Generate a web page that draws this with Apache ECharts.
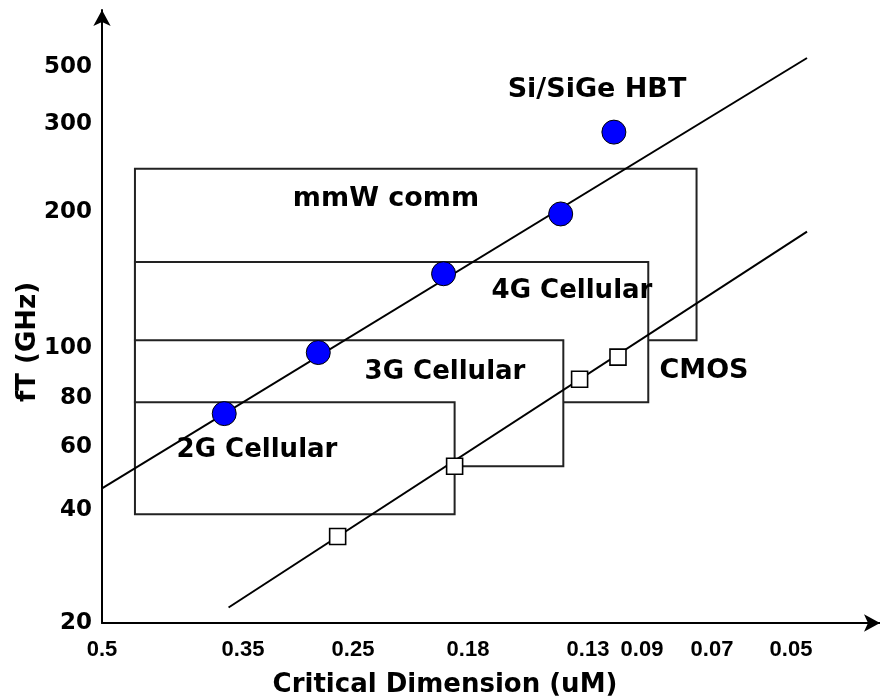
<!DOCTYPE html>
<html>
<head>
<meta charset="utf-8">
<script src="https://cdn.jsdelivr.net/npm/echarts@6/dist/echarts.min.js"></script>
<style>
  html, body { margin: 0; padding: 0; background: #fff; }
  #chart { width: 880px; height: 700px; }
</style>
</head>
<body>
<div id="chart"></div>
<script>
// Technology nodes on the horizontal axis (critical dimension, uM)
const nodeTicks = [0.5, 0.35, 0.25, 0.18, 0.13, 0.09, 0.07, 0.05];
// fT tick labels on the vertical axis (GHz)
const ftTicks = [20, 40, 60, 80, 100, 200, 300, 500];

// Si/SiGe HBT devices
const hbtNode = [0.367, 0.278, 0.193, 0.140, 0.109];
const hbtFt = [73, 98, 146, 198, 289];

// CMOS devices
const cmosNode = [0.262, 0.187, 0.133, 0.106];
const cmosFt = [34, 53, 87, 96];

// Trend lines (start, end)
const hbtTrendNode = [0.5, 0.0467];
const hbtTrendFt = [46, 542];
const cmosTrendNode = [0.363, 0.0467];
const cmosTrendFt = [22, 181];

// Application regions, back to front
const bandNames = ['mmW comm', '4G Cellular', '3G Cellular', '2G Cellular'];
const bandNodeFrom = [0.46, 0.46, 0.46, 0.46];
const bandNodeTo = [0.074, 0.088, 0.139, 0.187];
const bandFtLow = [104, 78, 53, 39];
const bandFtHigh = [244, 155, 104, 78];

// Both axes are hand-spaced: every labelled tick sits at its own stop
// (0-100 along the axis) and values in between are placed log-wise.
const nodeStops = [0, 18.12, 32.26, 47.04, 62.47, 69.41, 78.41, 88.56];
const ftStops = [0, 18.43, 28.71, 36.70, 44.86, 67.05, 81.40, 90.70];

function makeScale(ticks, stops) {
  const n = ticks.length;
  return function (v) {
    const lv = Math.log(v);
    let i = 0;
    for (; i < n - 2; i++) {
      const a = Math.log(ticks[i]), b = Math.log(ticks[i + 1]);
      if ((lv - a) / (b - a) <= 1) break;
    }
    const a = Math.log(ticks[i]), b = Math.log(ticks[i + 1]);
    const t = (lv - a) / (b - a);
    return stops[i] + t * (stops[i + 1] - stops[i]);
  };
}
const xScale = makeScale(nodeTicks, nodeStops);
const yScale = makeScale(ftTicks, ftStops);

function tickLabel(v, stops, ticks) {
  let best = 0;
  for (let i = 1; i < stops.length; i++) {
    if (Math.abs(stops[i] - v) < Math.abs(stops[best] - v)) best = i;
  }
  return String(ticks[best]);
}

const pairs = (xs, ys) => xs.map((x, i) => [xScale(x), yScale(ys[i])]);

const boldFont = (size, family) => 'bold ' + size + 'px ' + family;
const DV = '"DejaVu Sans"';

function note(text, x, y, size, extra) {
  return Object.assign({
    type: 'text', x: x, y: y, z: 100, silent: true,
    style: { text: text, font: boldFont(size, DV), fill: '#000', align: 'center', verticalAlign: 'middle' }
  }, extra || {});
}

const axisLineStyle = { color: '#000', width: 2 };
const arrowEnd = {
  show: true, onZero: false, lineStyle: axisLineStyle,
  symbol: ['none', 'arrow'], symbolSize: [13, 16], symbolOffset: [0, 0]
};

const option = {
  animation: false,
  backgroundColor: '#fff',
  grid: { left: 102, right: 0, top: 10, bottom: 77, outerBoundsMode: 'none' },
  xAxis: {
    type: 'value', min: 0, max: 100,
    axisLine: arrowEnd,
    axisTick: { show: false },
    splitLine: { show: false },
    axisLabel: {
      customValues: nodeTicks.map(xScale),
      formatter: v => tickLabel(v, nodeStops, nodeTicks),
      margin: 16, color: '#000',
      fontFamily: '"Liberation Sans"', fontWeight: 'bold', fontSize: 22
    }
  },
  yAxis: {
    type: 'value', min: 0, max: 100,
    axisLine: arrowEnd,
    axisTick: { show: false },
    splitLine: { show: false },
    axisLabel: {
      customValues: ftTicks.map(yScale),
      formatter: v => tickLabel(v, ftStops, ftTicks),
      margin: 10, color: '#000',
      fontFamily: DV, fontWeight: 'bold', fontSize: 23
    }
  },
  series: [
    {
      name: 'Application regions',
      type: 'custom',
      silent: true,
      z: 1,
      encode: { x: [0, 1], y: [2, 3] },
      data: bandNames.map((n, i) => [
        xScale(bandNodeFrom[i]), xScale(bandNodeTo[i]),
        yScale(bandFtLow[i]), yScale(bandFtHigh[i])
      ]),
      renderItem: function (params, api) {
        const p0 = api.coord([api.value(0), api.value(3)]);
        const p1 = api.coord([api.value(1), api.value(2)]);
        return {
          type: 'rect',
          shape: { x: p0[0], y: p0[1], width: p1[0] - p0[0], height: p1[1] - p0[1] },
          style: { fill: '#fff', stroke: '#222', lineWidth: 2 }
        };
      }
    },
    {
      name: 'HBT trend', type: 'line', z: 3, silent: true,
      symbol: 'none',
      lineStyle: { color: '#000', width: 2 },
      data: pairs(hbtTrendNode, hbtTrendFt)
    },
    {
      name: 'CMOS trend', type: 'line', z: 3, silent: true,
      symbol: 'none',
      lineStyle: { color: '#000', width: 2 },
      data: pairs(cmosTrendNode, cmosTrendFt)
    },
    {
      name: 'Si/SiGe HBT', type: 'scatter', z: 4, silent: true,
      symbol: 'circle', symbolSize: 24,
      itemStyle: { color: '#0000ff', borderColor: '#000', borderWidth: 1, opacity: 1 },
      data: pairs(hbtNode, hbtFt)
    },
    {
      name: 'CMOS', type: 'scatter', z: 4, silent: true,
      symbol: 'rect', symbolSize: 16,
      itemStyle: { color: '#fff', borderColor: '#000', borderWidth: 1.6, opacity: 1 },
      data: pairs(cmosNode, cmosFt)
    }
  ],
  graphic: [
    note('Si/SiGe HBT', 597, 90, 27),
    note('mmW comm', 386, 199, 27),
    note('4G Cellular', 572, 291, 26),
    note('3G Cellular', 445, 372, 26),
    note('2G Cellular', 257, 450, 26),
    note('CMOS', 704, 371, 27),
    note('Critical Dimension (uM)', 445, 685, 26),
    note('fT (GHz)', 28, 342, 26, { rotation: Math.PI / 2 })
  ]
};

const chart = echarts.init(document.getElementById('chart'), null, { renderer: 'canvas' });
chart.setOption(option);
</script>
</body>
</html>
